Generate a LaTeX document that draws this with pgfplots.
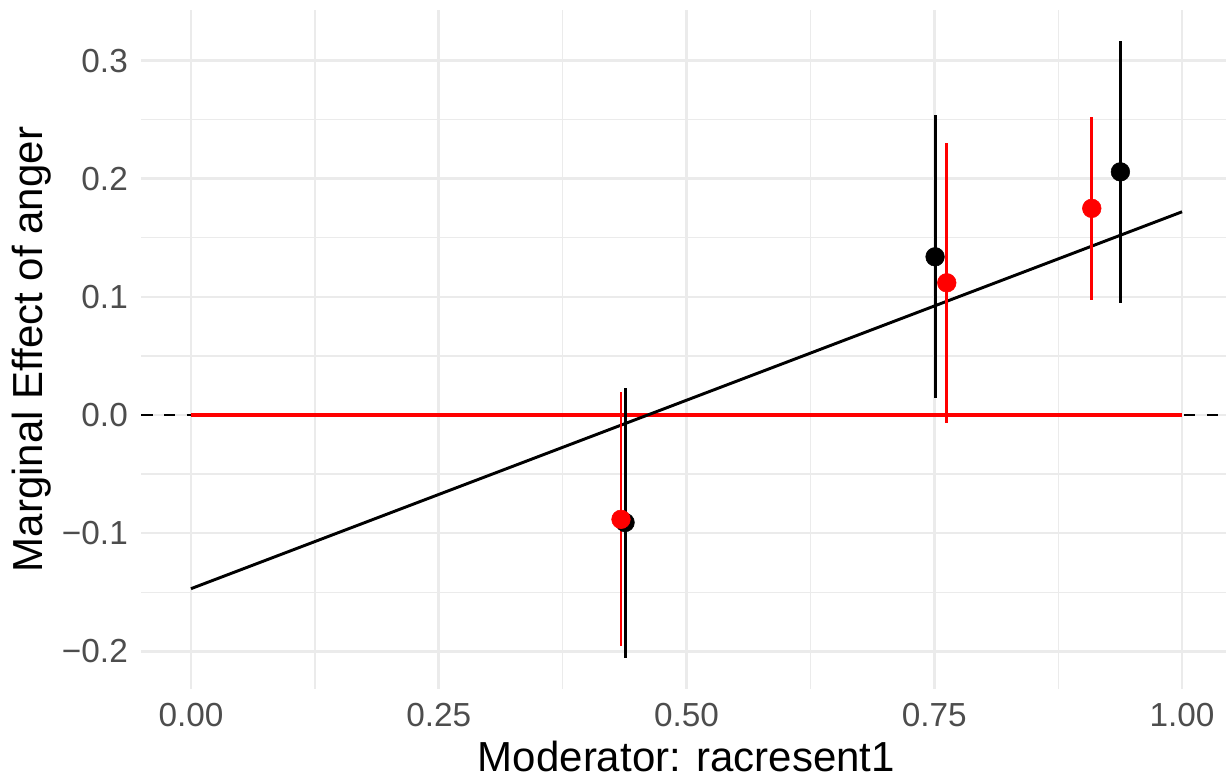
\documentclass[border=0pt]{standalone}
\usepackage{fontspec}
\setmainfont{Liberation Sans}
\usepackage{pgfplots}
\pgfplotsset{compat=1.18}
\usepackage{pgfplotstable}
\definecolor{gridgrey}{HTML}{EBEBEB}
\definecolor{tickgrey}{HTML}{4D4D4D}

\pgfplotstableread{
x      y       lo       hi
0.4380 -0.0910 -0.2058  0.0226
0.7508  0.1339  0.0140  0.2538
0.9378  0.2058  0.0950  0.3167
}\blackdata

\pgfplotstableread{
x      y       lo       hi
0.4339 -0.0883 -0.1954  0.0192
0.7626  0.1119 -0.0068  0.2299
0.9089  0.1749  0.0973  0.2524
}\reddata

\begin{document}
\begin{tikzpicture}
\path[use as bounding box] (-106.05pt,-69pt) rectangle (813.45pt,516.75pt);
\begin{axis}[
  scale only axis,
  width=817.65pt, height=509.25pt,
  xmin=-0.05, xmax=1.05,
  ymin=-0.2319, ymax=0.3428,
  clip=false,
  axis line style={draw=none},
  tick style={draw=none},
  xtick={0,0.25,0.5,0.75,1},
  xticklabels={0.00,0.25,0.50,0.75,1.00},
  ytick={-0.2,-0.1,0,0.1,0.2,0.3},
  yticklabels={−0.2,−0.1,0.0,0.1,0.2,0.3},
  minor xtick={0.125,0.375,0.625,0.875},
  minor ytick={-0.15,-0.05,0.05,0.15,0.25},
  grid=both,
  major grid style={color=gridgrey, line width=2pt},
  minor grid style={color=gridgrey, line width=1pt},
  xticklabel style={font=\fontsize{25}{30}\selectfont, color=tickgrey, anchor=north, inner sep=0pt, yshift=-10.5pt},
  yticklabel style={font=\fontsize{25}{30}\selectfont, color=tickgrey, anchor=east, inner sep=0pt, xshift=-10pt},
]
\addplot[black, line width=2.2pt, dash pattern=on 8.5pt off 8.5pt] coordinates {(-0.05,0) (1.05,0)};
\addplot[red, line width=2.6pt] coordinates {(0,0) (1,0)};
\addplot[black, line width=2.2pt] coordinates {(0,-0.147) (1,0.172)};
\addplot[only marks, mark=*, mark size=7pt, color=black,
  error bars/.cd, y dir=both, y explicit, error mark=none,
  error bar style={line width=2.2pt, black}]
  table[x=x, y=y, y error plus expr=\thisrow{hi}-\thisrow{y}, y error minus expr=\thisrow{y}-\thisrow{lo}] {\blackdata};
\addplot[only marks, mark=*, mark size=7pt, color=red,
  error bars/.cd, y dir=both, y explicit, error mark=none,
  error bar style={line width=2.2pt, red}]
  table[x=x, y=y, y error plus expr=\thisrow{hi}-\thisrow{y}, y error minus expr=\thisrow{y}-\thisrow{lo}] {\reddata};
\node[anchor=base, font=\fontsize{31.5}{38}\selectfont] at ([yshift=-62pt]axis description cs:0.5,0) {Moderator: racresent1};
\node[anchor=base, rotate=90, font=\fontsize{31.5}{38}\selectfont] at ([xshift=-74.5pt]axis description cs:0,0.5) {Marginal Effect of anger};
\end{axis}
\end{tikzpicture}
\end{document}
